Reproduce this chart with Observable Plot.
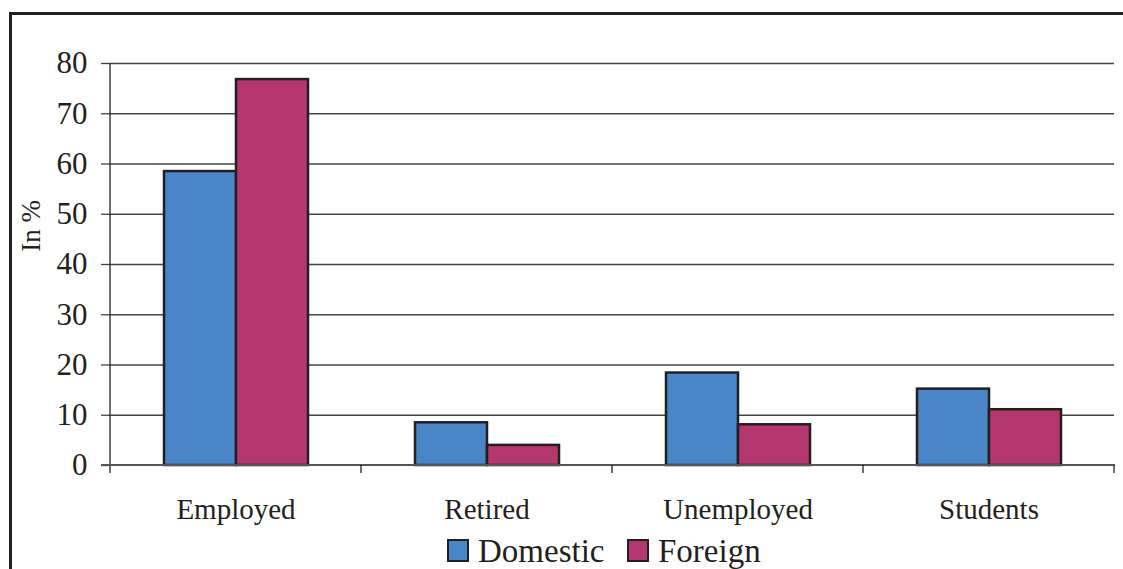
<!DOCTYPE html>
<html>
<head>
<meta charset="utf-8">
<script src="https://cdn.jsdelivr.net/npm/d3@7"></script>
<script src="https://cdn.jsdelivr.net/npm/@observablehq/plot@0.6"></script>
<style>
  html, body { margin: 0; padding: 0; background: #fff; }
  #wrap { position: relative; width: 1123px; height: 569px; overflow: hidden; background: #fff; }
  #chart { position: absolute; left: 0; top: 0; }
  #frame { position: absolute; left: 9px; top: 12px; width: 1130px; height: 600px;
           border-left: 3px solid #231f20; border-top: 3px solid #231f20; box-sizing: border-box; pointer-events: none; }
</style>
</head>
<body>
<div id="wrap">
  <div id="chart"></div>
  <div id="frame"></div>
</div>
<script>
const categories = ["Employed", "Retired", "Unemployed", "Students"];
const series = ["Domestic", "Foreign"];
const domestic = [58.5, 8.5, 18.4, 15.2];
const foreign = [76.8, 4.0, 8.1, 11.1];
const yTicks = [0, 10, 20, 30, 40, 50, 60, 70, 80];
const yLabel = "In %";
const colors = ["#4a86c7", "#b5376f"];
const FONT = "Liberation Serif, Times New Roman, serif";

const data = categories.flatMap((c, i) => [
  {category: c, series: series[0], value: domestic[i]},
  {category: c, series: series[1], value: foreign[i]}
]);

const W = 1123, H = 569, ML = 109, MR = 9;

const chart = Plot.plot({
  width: W,
  height: H,
  marginLeft: ML,
  marginRight: MR,
  marginTop: 63,
  marginBottom: 104,
  style: {fontFamily: FONT, background: "transparent", color: "#231f20"},
  fx: {domain: categories, padding: 0, label: null},
  x: {domain: series, paddingInner: 0, paddingOuter: 0.731, axis: null},
  y: {domain: [0, 80], ticks: yTicks, label: null},
  color: {domain: series, range: colors},
  marks: [
    Plot.gridY(yTicks.filter(d => d > 0), {stroke: "#444", strokeOpacity: 1, strokeWidth: 1.3}),
    Plot.barY(data, {fx: "category", x: "series", y: "value", fill: "series", stroke: "#231f20", strokeWidth: 2.5}),
    Plot.axisY(yTicks, {tickSize: 9, tickPadding: 14, fontSize: 31, stroke: "#444", strokeWidth: 1.3, label: null}),
    Plot.axisFx({anchor: "bottom", tickSize: 0, tickPadding: 33, fontSize: 29, label: null})
  ]
});
document.getElementById("chart").appendChild(chart);

// axis lines and category boundary ticks, positioned with the plot's own scales
const svg = d3.select(chart);
const ys = chart.scale("y");
const fxs = chart.scale("fx");
const y0 = ys.apply(0), yTop = ys.apply(80);
const bw = fxs.bandwidth != null ? fxs.bandwidth : (W - ML - MR) / categories.length;
const g = svg.append("g").attr("stroke", "#231f20").attr("stroke-width", 1.3);
const left = fxs.apply(categories[0]);
const right = fxs.apply(categories[categories.length - 1]) + bw;
g.append("line").attr("x1", left).attr("x2", left).attr("y1", yTop).attr("y2", y0 + 8);
g.append("line").attr("x1", left - 9).attr("x2", right + 1).attr("y1", y0).attr("y2", y0)
  .attr("stroke", "#555").attr("stroke-width", 1.8);
categories.forEach((c) => {
  const xe = fxs.apply(c) + bw;
  g.append("line").attr("x1", xe).attr("x2", xe).attr("y1", y0).attr("y2", y0 + 8);
});
svg.append("text")
  .attr("transform", `translate(40,${(yTop + y0) / 2 - 38}) rotate(-90)`)
  .attr("text-anchor", "middle")
  .attr("font-family", FONT)
  .attr("font-size", 27)
  .attr("fill", "#231f20")
  .text(yLabel);

// legend below the plot area
const lg = svg.append("g").attr("transform", "translate(0,530)");
const legendX = [447, 627];
series.forEach((s, i) => {
  lg.append("rect")
    .attr("x", legendX[i] + 1).attr("y", 10).attr("width", 20).attr("height", 21)
    .attr("fill", colors[i]).attr("stroke", "#231f20").attr("stroke-width", 2);
  lg.append("text")
    .attr("x", legendX[i] + 31).attr("y", 31.5)
    .attr("text-anchor", "start")
    .attr("font-family", FONT).attr("font-size", 33).attr("fill", "#231f20")
    .text(s);
});
</script>
</body>
</html>
